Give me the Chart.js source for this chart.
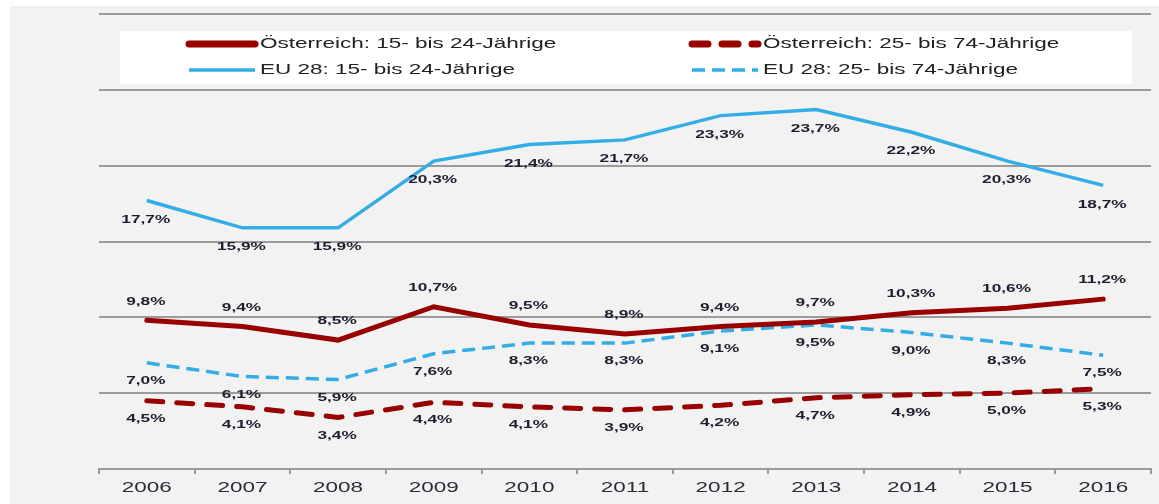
<!DOCTYPE html>
<html>
<head>
<meta charset="utf-8">
<script src="https://cdn.jsdelivr.net/npm/chart.js@4"></script>
<style>
    html, body { margin: 0; padding: 0; background: #ffffff; }
    canvas { display: block; }
</style>
</head>
<body>
<canvas id="chart1" width="1159" height="504"></canvas>
<script>
// values (percent)
const years = ['2006', '2007', '2008', '2009', '2010', '2011', '2012', '2013', '2014', '2015', '2016'];
const atYoung = [9.8, 9.4, 8.5, 10.7, 9.5, 8.9, 9.4, 9.7, 10.3, 10.6, 11.2];
const atOlder = [4.5, 4.1, 3.4, 4.4, 4.1, 3.9, 4.2, 4.7, 4.9, 5.0, 5.3];
const euYoung = [17.7, 15.9, 15.9, 20.3, 21.4, 21.7, 23.3, 23.7, 22.2, 20.3, 18.7];
const euOlder = [7.0, 6.1, 5.9, 7.6, 8.3, 8.3, 9.1, 9.5, 9.0, 8.3, 7.5];

const seriesNames = [
    'Österreich: 15- bis 24-Jährige',
    'Österreich: 25- bis 74-Jährige',
    'EU 28: 15- bis 24-Jährige',
    'EU 28: 25- bis 74-Jährige'
];

const RED = '#990000';
const BLUE = '#33ade5';
const GRID = '#9b9b9b';
const STRETCH = 1.5; // the source picture is wide, text is stretched sideways

function wideText(ctx, text, x, y, sx) {
    ctx.save();
    ctx.translate(x, y);
    ctx.scale(sx, 1);
    ctx.fillText(text, 0, 0);
    ctx.restore();
}

function fmt(v) {
    return v.toFixed(1).replace('.', ',') + '%';
}

const backgroundPlugin = {
    id: 'background',
    beforeDraw(chart) {
        const ctx = chart.ctx;
        ctx.save();
        ctx.fillStyle = '#f2f2f2';
        ctx.fillRect(10, 6, chart.width - 10, chart.height - 6);
        ctx.restore();
    }
};

const valueLabels = {
    id: 'valueLabels',
    afterDatasetsDraw(chart) {
        const ctx = chart.ctx;
        ctx.save();
        ctx.font = 'bold 11.5px "Liberation Sans", Arial, sans-serif';
        ctx.fillStyle = '#1e1e30';
        ctx.textAlign = 'center';
        ctx.textBaseline = 'middle';
        chart.data.datasets.forEach((ds, i) => {
            const meta = chart.getDatasetMeta(i);
            meta.data.forEach((pt, j) => {
                wideText(ctx, fmt(ds.data[j]), pt.x - 1, pt.y + ds.labelOffset, STRETCH);
            });
        });
        ctx.restore();
    }
};

const yearLabels = {
    id: 'yearLabels',
    afterDraw(chart) {
        const ctx = chart.ctx;
        const xs = chart.scales.x;
        ctx.save();
        ctx.font = '15px "Liberation Sans", Arial, sans-serif';
        ctx.fillStyle = '#2a2a3a';
        ctx.textAlign = 'center';
        ctx.textBaseline = 'middle';
        chart.data.labels.forEach((lab, i) => {
            wideText(ctx, lab, xs.getPixelForValue(i), 488, STRETCH);
        });
        ctx.restore();
    }
};

const boxLegend = {
    id: 'boxLegend',
    afterDraw(chart) {
        const ctx = chart.ctx;
        ctx.save();
        ctx.fillStyle = '#ffffff';
        ctx.fillRect(120, 31, 1012, 53);
        const slots = [[187, 44], [690, 44], [187, 70], [690, 70]];
        chart.data.datasets.forEach((ds, i) => {
            const [x, y] = slots[i];
            ctx.beginPath();
            ctx.strokeStyle = ds.borderColor;
            ctx.lineWidth = ds.legendWidth;
            ctx.lineCap = ds.borderCapStyle || 'butt';
            ctx.setLineDash(ds.borderDash || []);
            ctx.moveTo(x + 2, y);
            ctx.lineTo(x + 68, y);
            ctx.stroke();
            ctx.setLineDash([]);
            ctx.font = '15px "Liberation Sans", Arial, sans-serif';
            ctx.fillStyle = '#222222';
            ctx.textAlign = 'left';
            ctx.textBaseline = 'middle';
            wideText(ctx, ds.label, x + 73, y, STRETCH);
        });
        ctx.restore();
    }
};

const ctx = document.getElementById('chart1').getContext('2d');
new Chart(ctx, {
    type: 'line',
    data: {
        labels: years,
        datasets: [
            {
                label: seriesNames[0],
                data: atYoung,
                borderColor: RED,
                borderWidth: 5,
                borderCapStyle: 'round',
                legendWidth: 7,
                labelOffset: -19
            },
            {
                label: seriesNames[1],
                data: atOlder,
                borderColor: RED,
                borderWidth: 5,
                borderCapStyle: 'round',
                borderDash: [16, 14],
                legendWidth: 7,
                labelOffset: 18
            },
            {
                label: seriesNames[2],
                data: euYoung,
                borderColor: BLUE,
                borderWidth: 3.5,
                legendWidth: 3.5,
                labelOffset: 19
            },
            {
                label: seriesNames[3],
                data: euOlder,
                borderColor: BLUE,
                borderWidth: 3.5,
                borderDash: [13, 7],
                legendWidth: 3.5,
                labelOffset: 18
            }
        ]
    },
    options: {
        responsive: false,
        animation: false,
        layout: {
            padding: { left: 99, right: 8, top: 14, bottom: 0 }
        },
        elements: {
            point: { radius: 0 },
            line: { tension: 0, fill: false }
        },
        plugins: {
            legend: { display: false },
            tooltip: { enabled: false }
        },
        scales: {
            x: {
                offset: true,
                grid: {
                    offset: true,
                    drawOnChartArea: false,
                    drawTicks: true,
                    tickLength: 5,
                    color: GRID,
                    lineWidth: 2
                },
                border: { color: GRID, width: 2 },
                ticks: { display: false },
                afterFit: (axis) => { axis.height = 35; }
            },
            y: {
                min: 0,
                max: 30,
                ticks: { display: false, stepSize: 5 },
                grid: { color: GRID, lineWidth: 2, drawTicks: false },
                border: { display: false },
                afterFit: (axis) => { axis.width = 0; }
            }
        }
    },
    plugins: [backgroundPlugin, valueLabels, yearLabels, boxLegend]
});
</script>
</body>
</html>
